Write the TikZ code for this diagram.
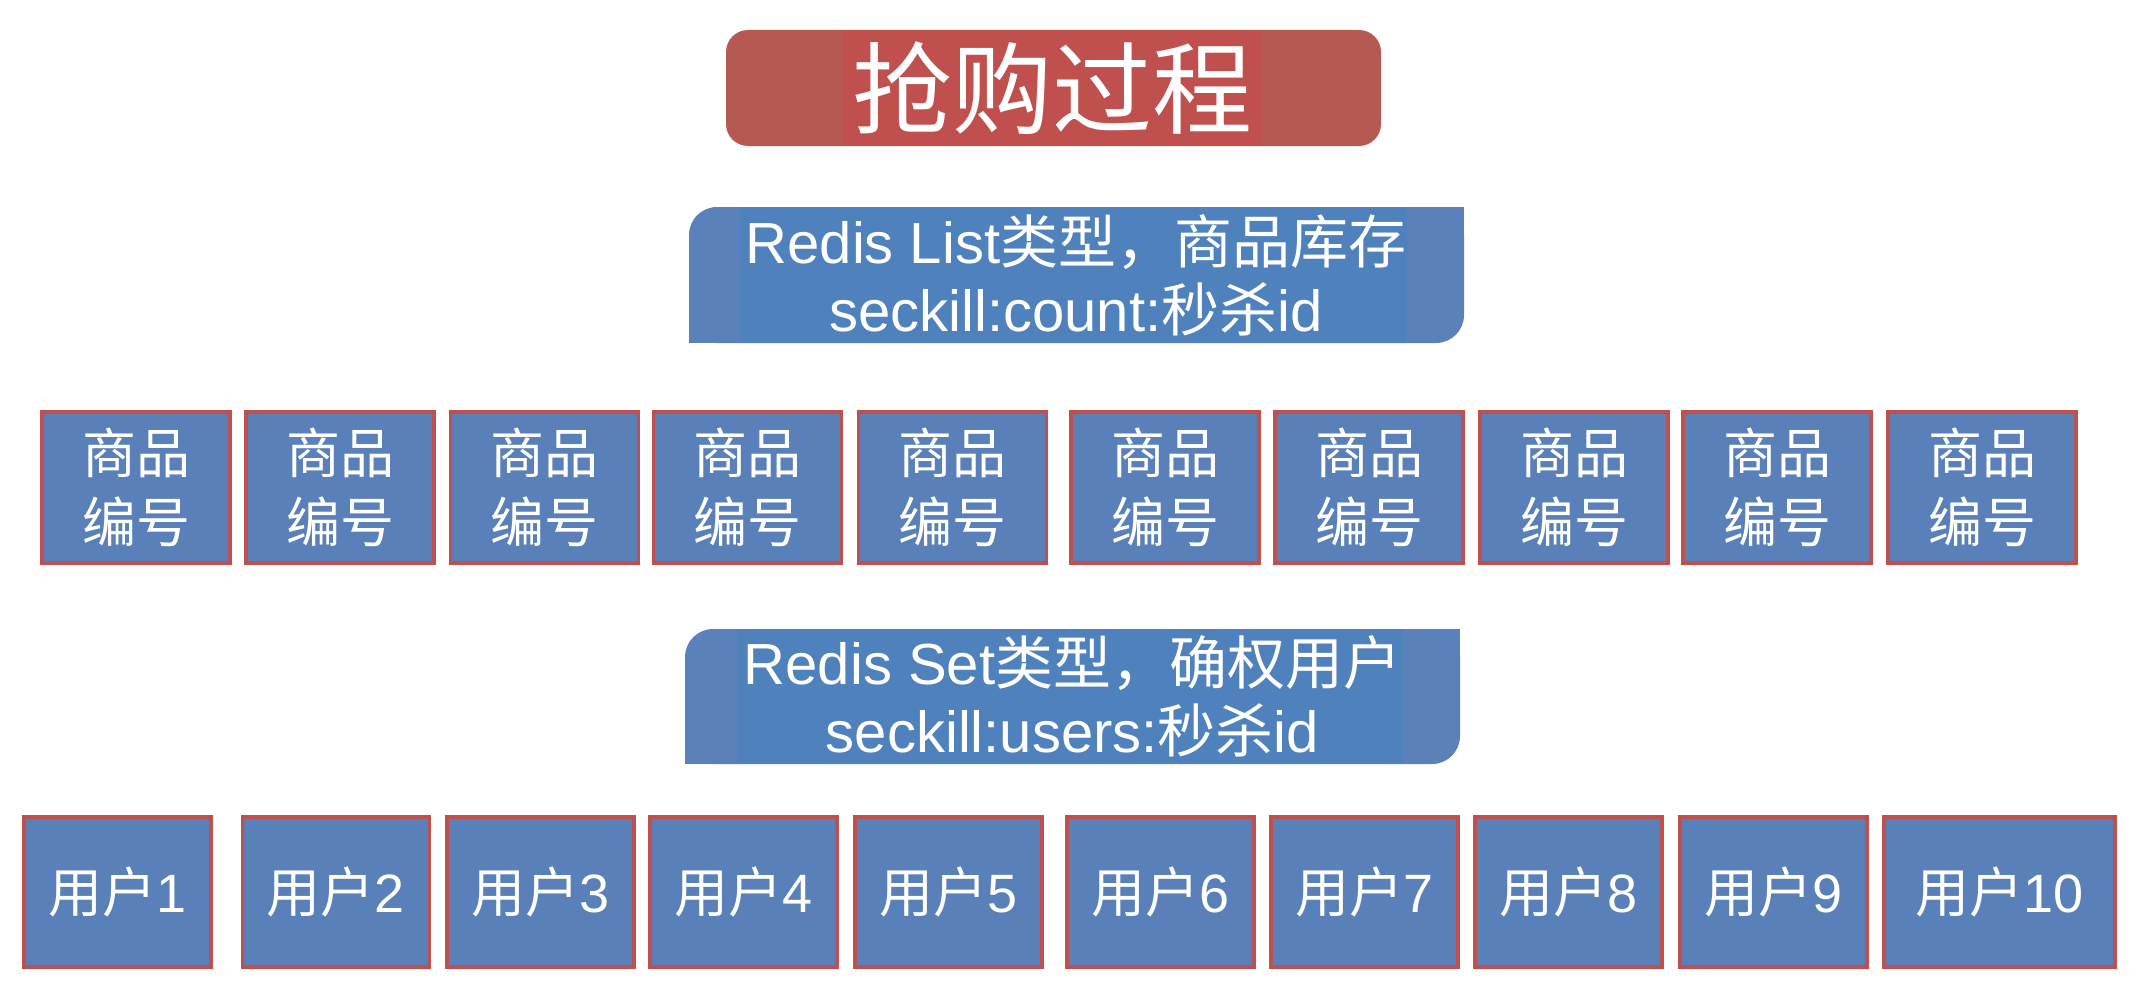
\documentclass[tikz,border=0pt]{standalone}
\usepackage{fontspec}
\setmainfont{Liberation Sans}
\newfontfamily\cjk{Noto Sans CJK SC}
\definecolor{titleout}{RGB}{181,89,82}
\definecolor{titlein}{RGB}{192,80,77}
\definecolor{blueout}{RGB}{90,129,186}
\definecolor{bluein}{RGB}{79,129,189}
\definecolor{boxfill}{RGB}{89,128,185}
\definecolor{boxborder}{RGB}{192,80,77}
\tikzset{
  goodsbox/.style={draw=boxborder, line width=3.5pt, fill=boxfill, minimum width=188pt, minimum height=151pt, inner sep=0pt, text=white, align=center, font=\cjk\fontsize{54}{69}\selectfont},
  userbox/.style={draw=boxborder, line width=3.5pt, fill=boxfill, minimum width=187pt, minimum height=150pt, inner sep=0pt, text=white, font=\fontsize{54}{60}\selectfont},
  bigtext/.style={text=white, align=center, inner sep=0pt, font=\fontsize{58}{68}\selectfont},
  titletext/.style={text=white, inner sep=0pt, font=\cjk\fontsize{100}{110}\selectfont}
}
\begin{document}
\begin{tikzpicture}[x=1pt,y=-1pt]
\useasboundingbox (0,0) rectangle (2140,990);
% title
\fill[titleout, rounded corners=22pt] (726,30) rectangle (1381,146);
\fill[titlein] (843,30) rectangle (1262,146);
\node[titletext] (title) at (1052,88) {抢购过程};
% Redis List box
\fill[blueout, rounded corners=28pt] (689,207) rectangle (1464,343);
\fill[blueout] (1420,207) rectangle (1464,250);
\fill[blueout] (689,300) rectangle (732,343);
\fill[bluein] (740,207) rectangle (1407,343);
\node[bigtext] (list) at (1076,275) {Redis List{\cjk 类型，商品库存}\\seckill:count:{\cjk 秒杀}id};
% goods
\node[goodsbox] (g1) at (136,487.5) {商品\\编号};
\node[goodsbox] (g2) at (340,487.5) {商品\\编号};
\node[goodsbox] (g3) at (544.5,487.5) {商品\\编号};
\node[goodsbox] (g4) at (747.5,487.5) {商品\\编号};
\node[goodsbox] (g5) at (952.5,487.5) {商品\\编号};
\node[goodsbox] (g6) at (1165,487.5) {商品\\编号};
\node[goodsbox] (g7) at (1369,487.5) {商品\\编号};
\node[goodsbox] (g8) at (1574,487.5) {商品\\编号};
\node[goodsbox] (g9) at (1777,487.5) {商品\\编号};
\node[goodsbox] (g10) at (1982,487.5) {商品\\编号};
% Redis Set box
\fill[blueout, rounded corners=28pt] (685,629) rectangle (1460,764);
\fill[blueout] (1416,629) rectangle (1460,672);
\fill[blueout] (685,721) rectangle (728,764);
\fill[bluein] (737,629) rectangle (1403,764);
\node[bigtext] (set) at (1072.5,696.5) {Redis Set{\cjk 类型，确权用户}\\seckill:users:{\cjk 秒杀}id};
% users
\node[userbox] (u1) at (117.5,892) {{\cjk 用户}1};
\node[userbox] (u2) at (336,892) {{\cjk 用户}2};
\node[userbox] (u3) at (540.5,892) {{\cjk 用户}3};
\node[userbox] (u4) at (743.5,892) {{\cjk 用户}4};
\node[userbox] (u5) at (948.5,892) {{\cjk 用户}5};
\node[userbox] (u6) at (1160.5,892) {{\cjk 用户}6};
\node[userbox] (u7) at (1364.5,892) {{\cjk 用户}7};
\node[userbox] (u8) at (1568.5,892) {{\cjk 用户}8};
\node[userbox] (u9) at (1773.5,892) {{\cjk 用户}9};
\node[userbox, minimum width=231pt] (u10) at (1999.5,892) {{\cjk 用户}10};
\end{tikzpicture}
\end{document}
